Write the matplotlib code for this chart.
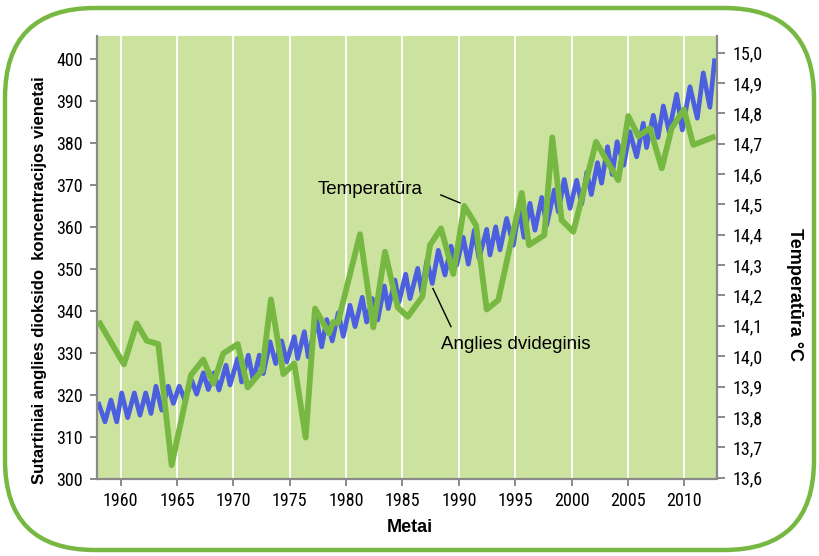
import matplotlib
matplotlib.use("Agg")
import matplotlib.pyplot as plt
from matplotlib.patches import FancyBboxPatch

# CO2 sawtooth: vertices (year, ppm)
co2_t = [1958.07, 1958.61, 1959.14, 1959.65, 1960.09, 1960.62, 1961.21, 1961.71,
         1962.22, 1962.69, 1963.13, 1963.64, 1964.22, 1964.67, 1965.20, 1965.70,
         1966.30, 1966.74, 1967.33, 1967.77, 1968.28, 1968.72, 1969.34, 1969.70,
         1970.38, 1970.73, 1971.32, 1971.76, 1972.30, 1972.65, 1973.25, 1973.75,
         1974.28, 1974.73, 1975.40, 1975.70, 1976.29, 1976.64, 1977.39, 1977.83,
         1978.28, 1978.77, 1979.30, 1979.75, 1980.34, 1980.79, 1981.43, 1981.82,
         1982.32, 1982.80, 1983.39, 1983.74, 1984.33, 1984.69, 1985.28, 1985.67,
         1986.35, 1986.70, 1987.17, 1987.64, 1988.18, 1988.77, 1989.30, 1989.81,
         1990.39, 1990.84, 1991.37, 1991.79, 1992.47, 1992.76, 1993.27, 1993.65,
         1994.24, 1994.83, 1995.34, 1995.78, 1996.31, 1996.75, 1997.35, 1997.79,
         1998.47, 1998.82, 1999.35, 1999.86, 2000.45, 2000.90, 2001.35, 2001.75,
         2002.30, 2002.66, 2003.19, 2003.60, 2004.04, 2004.63, 2005.16, 2005.77,
         2006.36, 2006.65, 2007.25, 2007.67, 2008.14, 2008.65, 2009.32, 2009.82,
         2010.50, 2011.15, 2011.68, 2012.27, 2012.68]
co2_v = [317.7, 313.5, 318.7, 313.5, 320.4, 314.5, 320.4, 315.1,
         320.4, 315.5, 322.0, 316.3, 322.0, 317.9, 322.0, 318.7,
         323.4, 320.1, 325.2, 321.2, 325.2, 321.1, 327.0, 322.3,
         328.6, 323.0, 329.4, 323.4, 329.4, 325.0, 332.6, 327.4,
         332.8, 327.8, 333.8, 328.6, 335.0, 329.0, 337.8, 331.4,
         337.9, 332.8, 339.5, 333.9, 341.3, 336.2, 343.2, 337.3,
         342.9, 337.8, 345.9, 340.5, 347.3, 342.1, 348.7, 342.9,
         350.1, 344.5, 352.0, 346.5, 354.4, 348.5, 355.4, 350.9,
         357.5, 351.1, 359.2, 352.5, 359.4, 353.3, 360.0, 354.5,
         362.0, 355.6, 364.4, 357.5, 365.6, 359.2, 367.0, 360.4,
         368.8, 363.6, 371.3, 364.4, 371.1, 365.5, 373.0, 367.7,
         375.3, 370.4, 379.1, 372.5, 380.3, 374.7, 382.7, 376.7,
         384.7, 378.9, 386.6, 381.3, 388.8, 382.7, 391.6, 383.1,
         393.4, 385.9, 396.7, 388.5, 399.6]

# temperature polyline vertices (year, deg C)
temp_t = [1958.16, 1960.29, 1961.42, 1962.31, 1963.34, 1964.52, 1966.24, 1967.33,
          1968.22, 1969.10, 1970.38, 1971.27, 1972.56, 1973.33, 1974.43, 1975.40,
          1976.41, 1977.24, 1978.48, 1978.86, 1979.25, 1981.23, 1982.41, 1983.45,
          1984.57, 1985.46, 1986.76, 1987.44, 1988.42, 1989.51, 1990.48, 1991.52,
          1992.47, 1993.50, 1995.58, 1996.22, 1997.58, 1998.29, 1999.12, 2000.15,
          2002.17, 2004.14, 2005.03, 2005.92, 2006.96, 2008.00, 2008.88, 2009.97,
          2010.80, 2012.52]
temp_v = [14.108, 13.973, 14.108, 14.051, 14.040, 13.641, 13.938, 13.989,
          13.910, 14.009, 14.040, 13.897, 13.954, 14.187, 13.941, 13.976,
          13.732, 14.157, 14.075, 14.113, 14.108, 14.402, 14.095, 14.344,
          14.161, 14.130, 14.196, 14.366, 14.421, 14.271, 14.495, 14.432,
          14.154, 14.185, 14.538, 14.366, 14.399, 14.721, 14.448, 14.410,
          14.706, 14.580, 14.791, 14.725, 14.751, 14.619, 14.751, 14.813,
          14.696, 14.721]

year_ticks = [1960, 1965, 1970, 1975, 1980, 1985, 1990, 1995, 2000, 2005, 2010]
co2_ticks = [300, 310, 320, 330, 340, 350, 360, 370, 380, 390, 400]
temp_ticks = [13.6, 13.7, 13.8, 13.9, 14.0, 14.1, 14.2, 14.3, 14.4, 14.5,
              14.6, 14.7, 14.8, 14.9, 15.0]
temp_labels = ["13,6", "13,7", "13,8", "13,9", "14,0", "14,1", "14,2", "14,3",
               "14,4", "14,5", "14,6", "14,7", "14,8", "14,9", "15,0"]

green = "#77b843"
blue = "#4b5fdf"
bg = "#cce3a0"
grey = "#8a8a8a"
tick_font = ["Liberation Sans Narrow", "Roboto Condensed", "DejaVu Sans"]
label_font = ["Liberation Sans", "DejaVu Sans"]

fig = plt.figure(figsize=(8.19, 5.56), dpi=100)

# rounded green frame, drawn in pixel units
frame = fig.add_axes([0, 0, 1, 1])
frame.set_xlim(0, 819)
frame.set_ylim(556, 0)
frame.axis("off")
frame.add_patch(FancyBboxPatch((5, 8), 809, 542, boxstyle="round,pad=0,rounding_size=90",
                               fill=False, ec=green, lw=3.2))

ax = fig.add_axes([97 / 819, 1 - 478.5 / 556, 620 / 819, 442.5 / 556])
ax.set_facecolor(bg)
ax.set_xlim(1957.9, 2012.9)
ax.set_ylim(300, 405.5)
ax.set_xticks(year_ticks)
ax.set_yticks(co2_ticks)
ax.grid(axis="x", color="white", lw=1.3)
ax.grid(axis="y", visible=False)
ax.set_axisbelow(True)
ax.plot(co2_t, co2_v, color=blue, lw=3.4, zorder=2)

for s in ["top", "right"]:
    ax.spines[s].set_visible(False)
for s in ["left", "bottom"]:
    ax.spines[s].set_color(grey)
    ax.spines[s].set_linewidth(1.6)
ax.tick_params(axis="both", color=grey, width=1.4, length=5, labelsize=13, pad=5)
for lab in ax.get_xticklabels() + ax.get_yticklabels():
    lab.set_family(tick_font)
    lab.set_stretch("condensed")

ax2 = ax.twinx()
ax2.set_ylim(13.597, 15.055)
ax2.set_yticks(temp_ticks)
ax2.set_yticklabels(temp_labels)
ax2.plot(temp_t, temp_v, color=green, lw=4.2, zorder=3)
for s in ["top", "left", "bottom"]:
    ax2.spines[s].set_visible(False)
ax2.spines["right"].set_color(grey)
ax2.spines["right"].set_linewidth(1.6)
ax2.tick_params(axis="y", color=grey, width=1.4, length=6, labelsize=13, pad=5)
for lab in ax2.get_yticklabels():
    lab.set_family(tick_font)
    lab.set_stretch("condensed")

# callouts
ax2.text(1977.5, 368.8, "Temperatūra", transform=ax.transData, fontsize=13.5,
         family=label_font, va="center", ha="left")
ax2.plot([1988.4, 1990.1], [367.6, 365.7], color="black", lw=1, transform=ax.transData)
ax2.text(1988.4, 332.0, "Anglies dvideginis", transform=ax.transData, fontsize=13.5,
         family=label_font, va="center", ha="left")
ax2.plot([1987.7, 1989.3], [345.3, 336.2], color="black", lw=1, transform=ax.transData)

fig.text(40 / 819, 1 - 280 / 556, "Sutartiniai anglies dioksido  koncentracijos vienetai",
         rotation=90, ha="center", va="center", fontsize=12, fontweight="bold",
         family=label_font)
fig.text(795 / 819, 1 - 294 / 556, "Temperatūra °C", rotation=270, ha="center",
         va="center", fontsize=13, fontweight="bold", family=label_font)
fig.text(410 / 819, 1 - 527 / 556, "Metai", ha="center", va="center", fontsize=13,
         fontweight="bold", family=label_font)

fig.savefig("out.png", dpi=100)
